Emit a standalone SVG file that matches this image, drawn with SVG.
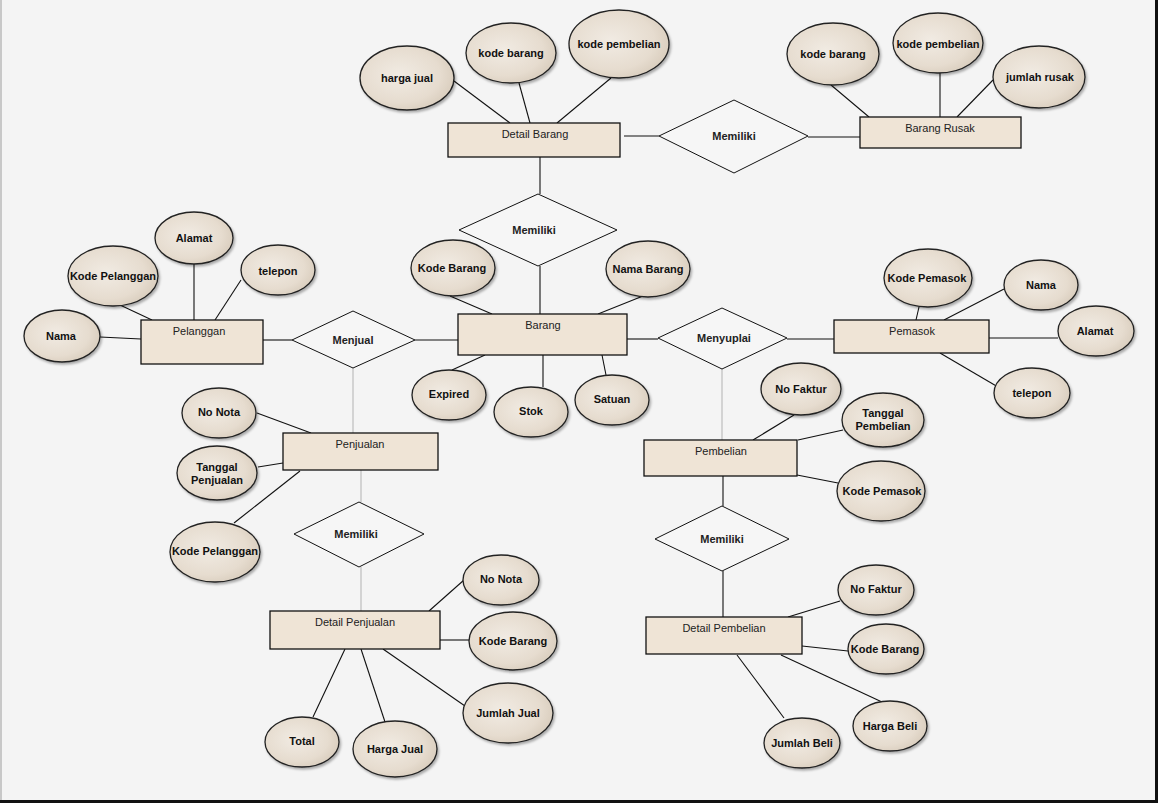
<svg xmlns="http://www.w3.org/2000/svg" width="1158" height="803" viewBox="0 0 1158 803">
<defs>
<radialGradient id="eg" cx="0.42" cy="0.45" r="0.62">
<stop offset="0" stop-color="#f1ebe3"/>
<stop offset="0.7" stop-color="#e6dccf"/>
<stop offset="1" stop-color="#d8ccbc"/>
</radialGradient>
<filter id="sh" x="-20%" y="-20%" width="150%" height="150%">
<feDropShadow dx="1.5" dy="2" stdDeviation="1.2" flood-color="#000" flood-opacity="0.3"/>
</filter>
</defs>
<style>
.ent rect{fill:#efe4d6;stroke:#111;stroke-width:1.3}
.ent text{font-family:"Liberation Sans",Arial,sans-serif;font-size:11px;fill:#222;text-anchor:middle}
.rel polygon{fill:#f6f6f6;stroke:#111;stroke-width:1}
.rel text{font-family:"Liberation Sans",Arial,sans-serif;font-size:11px;font-weight:bold;fill:#222;text-anchor:middle}
.att ellipse{fill:url(#eg);stroke:#222;stroke-width:1.3;filter:url(#sh)}
.att text{font-family:"Liberation Sans",Arial,sans-serif;font-size:11px;font-weight:bold;fill:#111;text-anchor:middle}
#connectors line{stroke:#111;stroke-width:1.1}
#connectors line.g{stroke:#b8b8b8}
</style>
<rect x="0" y="0" width="1158" height="803" fill="#f4f4f4"/>
<rect x="0" y="0" width="2" height="803" fill="#c8c8c8"/>
<rect x="1155" y="0" width="3" height="803" fill="#111"/>
<rect x="0" y="800" width="1158" height="3" fill="#111"/>

<g id="connectors">
<line x1="454" y1="81" x2="510" y2="123"/>
<line x1="519" y1="83" x2="530" y2="123"/>
<line x1="611" y1="78" x2="557" y2="123"/>
<line x1="624" y1="136" x2="659" y2="136"/>
<line x1="808" y1="137" x2="860" y2="137"/>
<line x1="831" y1="85" x2="869" y2="117"/>
<line x1="940" y1="73" x2="940" y2="117"/>
<line x1="993" y1="80" x2="957" y2="117"/>
<line x1="540" y1="157" x2="540" y2="194"/>
<line x1="540" y1="266" x2="540" y2="314"/>
<line x1="450" y1="296" x2="492" y2="314"/>
<line x1="643" y1="296" x2="598" y2="314"/>
<line x1="452" y1="370" x2="485" y2="355"/>
<line x1="543" y1="355" x2="543" y2="387"/>
<line x1="602" y1="355" x2="606" y2="375"/>
<line x1="415" y1="340" x2="458" y2="340"/>
<line x1="263" y1="340" x2="292" y2="340"/>
<line x1="194" y1="264" x2="194" y2="320"/>
<line x1="120" y1="305" x2="152" y2="320"/>
<line x1="241" y1="280" x2="215" y2="320"/>
<line x1="100" y1="337" x2="141" y2="339"/>
<line class="g" x1="353" y1="368" x2="353" y2="433"/>
<line x1="627" y1="339" x2="658" y2="339"/>
<line x1="787" y1="339" x2="834" y2="339"/>
<line class="g" x1="722" y1="369" x2="722" y2="440"/>
<line x1="919" y1="307" x2="916" y2="320"/>
<line x1="1004" y1="289" x2="944" y2="320"/>
<line x1="1058" y1="338" x2="989" y2="338"/>
<line x1="998" y1="387" x2="940" y2="353"/>
<line x1="794" y1="415" x2="753" y2="440"/>
<line x1="843" y1="430" x2="798" y2="440"/>
<line x1="838" y1="483" x2="797" y2="475"/>
<line x1="723" y1="476" x2="723" y2="506"/>
<line x1="723" y1="571" x2="723" y2="617"/>
<line x1="840" y1="601" x2="788" y2="617"/>
<line x1="848" y1="651" x2="802" y2="646"/>
<line x1="882" y1="702" x2="781" y2="655"/>
<line x1="784" y1="718" x2="737" y2="655"/>
<line x1="257" y1="413" x2="311" y2="433"/>
<line x1="258" y1="467" x2="283" y2="463"/>
<line x1="234" y1="523" x2="300" y2="471"/>
<line class="g" x1="361" y1="470" x2="361" y2="502"/>
<line class="g" x1="361" y1="567" x2="361" y2="611"/>
<line x1="464" y1="580" x2="429" y2="611"/>
<line x1="470" y1="640" x2="440" y2="640"/>
<line x1="465" y1="706" x2="383" y2="649"/>
<line x1="385" y1="722" x2="361" y2="649"/>
<line x1="313" y1="717" x2="345" y2="649"/>
</g>

<g id="detail-barang" class="ent"><rect x="448" y="123" width="172" height="34"/><text x="535" y="138">Detail Barang</text></g>
<g id="barang-rusak" class="ent"><rect x="860" y="117" width="161" height="31"/><text x="940" y="132">Barang Rusak</text></g>
<g id="barang" class="ent"><rect x="458" y="314" width="169" height="41"/><text x="543" y="329">Barang</text></g>
<g id="pelanggan" class="ent"><rect x="141" y="320" width="122" height="44"/><text x="199" y="335">Pelanggan</text></g>
<g id="pemasok" class="ent"><rect x="834" y="320" width="155" height="33"/><text x="912" y="335">Pemasok</text></g>
<g id="penjualan" class="ent"><rect x="283" y="433" width="155" height="37"/><text x="360" y="448">Penjualan</text></g>
<g id="pembelian" class="ent"><rect x="644" y="440" width="153" height="36"/><text x="721" y="455">Pembelian</text></g>
<g id="detail-penjualan" class="ent"><rect x="270" y="611" width="170" height="38"/><text x="355" y="626">Detail Penjualan</text></g>
<g id="detail-pembelian" class="ent"><rect x="646" y="617" width="156" height="37"/><text x="724" y="632">Detail Pembelian</text></g>

<g id="rel-memiliki-rusak" class="rel"><polygon points="659,136 734,100 808,136 734,173"/><text x="734" y="140">Memiliki</text></g>
<g id="rel-memiliki-barang" class="rel"><polygon points="459,230 538,194 617,230 538,266"/><text x="534" y="234">Memiliki</text></g>
<g id="rel-menjual" class="rel"><polygon points="292,340 353,311 415,340 353,368"/><text x="353" y="344">Menjual</text></g>
<g id="rel-menyuplai" class="rel"><polygon points="658,338 722,308 787,338 722,369"/><text x="724" y="342">Menyuplai</text></g>
<g id="rel-memiliki-penjualan" class="rel"><polygon points="294,534 359,502 424,534 359,567"/><text x="356" y="538">Memiliki</text></g>
<g id="rel-memiliki-pembelian" class="rel"><polygon points="655,539 722,506 789,539 722,571"/><text x="722" y="543">Memiliki</text></g>

<g id="att-harga-jual" class="att"><ellipse cx="407" cy="78" rx="47" ry="32"/><text x="407" y="82">harga jual</text></g>
<g id="att-kode-barang-db" class="att"><ellipse cx="511" cy="53" rx="45" ry="30"/><text x="511" y="57">kode barang</text></g>
<g id="att-kode-pembelian-db" class="att"><ellipse cx="619" cy="44" rx="50" ry="34"/><text x="619" y="48">kode pembelian</text></g>
<g id="att-kode-barang-br" class="att"><ellipse cx="833" cy="54" rx="46" ry="31"/><text x="833" y="58">kode barang</text></g>
<g id="att-kode-pembelian-br" class="att"><ellipse cx="938" cy="43" rx="45" ry="30"/><text x="938" y="48">kode pembelian</text></g>
<g id="att-jumlah-rusak" class="att"><ellipse cx="1039" cy="77" rx="46" ry="31"/><text x="1040" y="81">jumlah rusak</text></g>
<g id="att-alamat-pl" class="att"><ellipse cx="194" cy="238" rx="39" ry="26"/><text x="194" y="242">Alamat</text></g>
<g id="att-kode-pelanggan" class="att"><ellipse cx="113" cy="276" rx="45" ry="30"/><text x="113" y="280">Kode Pelanggan</text></g>
<g id="att-telepon-pl" class="att"><ellipse cx="278" cy="270" rx="37" ry="25"/><text x="278" y="275">telepon</text></g>
<g id="att-nama-pl" class="att"><ellipse cx="62" cy="336" rx="38" ry="26"/><text x="61" y="340">Nama</text></g>
<g id="att-kode-barang" class="att"><ellipse cx="453" cy="268" rx="42" ry="28"/><text x="452" y="272">Kode Barang</text></g>
<g id="att-nama-barang" class="att"><ellipse cx="648" cy="269" rx="42" ry="28"/><text x="648" y="273">Nama Barang</text></g>
<g id="att-expired" class="att"><ellipse cx="449" cy="395" rx="37" ry="25"/><text x="449" y="398">Expired</text></g>
<g id="att-stok" class="att"><ellipse cx="531" cy="412" rx="37" ry="25"/><text x="531" y="415">Stok</text></g>
<g id="att-satuan" class="att"><ellipse cx="612" cy="400" rx="37" ry="25"/><text x="612" y="403">Satuan</text></g>
<g id="att-kode-pemasok" class="att"><ellipse cx="928" cy="278" rx="44" ry="29"/><text x="927" y="282">Kode Pemasok</text></g>
<g id="att-nama-pm" class="att"><ellipse cx="1041" cy="285" rx="37" ry="25"/><text x="1041" y="289">Nama</text></g>
<g id="att-alamat-pm" class="att"><ellipse cx="1096" cy="331" rx="38" ry="25"/><text x="1095" y="335">Alamat</text></g>
<g id="att-telepon-pm" class="att"><ellipse cx="1032" cy="393" rx="38" ry="25"/><text x="1032" y="397">telepon</text></g>
<g id="att-no-faktur-pb" class="att"><ellipse cx="801" cy="389" rx="40" ry="26"/><text x="801" y="393">No Faktur</text></g>
<g id="att-tanggal-pembelian" class="att"><ellipse cx="883" cy="420" rx="41" ry="27"/><text x="883" y="417">Tanggal</text><text x="883" y="430">Pembelian</text></g>
<g id="att-kode-pemasok-pb" class="att"><ellipse cx="881" cy="491" rx="44" ry="30"/><text x="882" y="495">Kode Pemasok</text></g>
<g id="att-no-faktur-dp" class="att"><ellipse cx="876" cy="590" rx="38" ry="25"/><text x="876" y="593">No Faktur</text></g>
<g id="att-kode-barang-dp" class="att"><ellipse cx="886" cy="649" rx="38" ry="25"/><text x="885" y="653">Kode Barang</text></g>
<g id="att-harga-beli" class="att"><ellipse cx="890" cy="726" rx="37" ry="25"/><text x="890" y="730">Harga Beli</text></g>
<g id="att-jumlah-beli" class="att"><ellipse cx="802" cy="743" rx="38" ry="25"/><text x="802" y="747">Jumlah Beli</text></g>
<g id="att-no-nota-pj" class="att"><ellipse cx="219" cy="413" rx="37" ry="25"/><text x="219" y="416">No Nota</text></g>
<g id="att-tanggal-penjualan" class="att"><ellipse cx="217" cy="473" rx="40" ry="27"/><text x="217" y="471">Tanggal</text><text x="217" y="484">Penjualan</text></g>
<g id="att-kode-pelanggan-pj" class="att"><ellipse cx="215" cy="552" rx="45" ry="30"/><text x="215" y="555">Kode Pelanggan</text></g>
<g id="att-no-nota-dj" class="att"><ellipse cx="501" cy="580" rx="38" ry="25"/><text x="501" y="583">No Nota</text></g>
<g id="att-kode-barang-dj" class="att"><ellipse cx="513" cy="641" rx="44" ry="29"/><text x="513" y="645">Kode Barang</text></g>
<g id="att-jumlah-jual" class="att"><ellipse cx="508" cy="713" rx="45" ry="30"/><text x="508" y="717">Jumlah Jual</text></g>
<g id="att-total" class="att"><ellipse cx="302" cy="742" rx="37" ry="25"/><text x="302" y="745">Total</text></g>
<g id="att-harga-jual-dj" class="att"><ellipse cx="395" cy="749" rx="42" ry="28"/><text x="395" y="753">Harga Jual</text></g>
</svg>
